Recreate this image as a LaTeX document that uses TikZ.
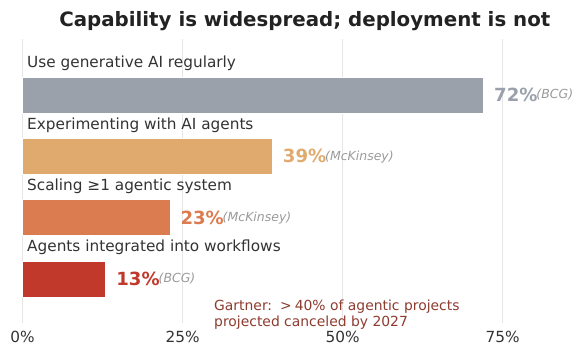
\documentclass[tikz,border=0pt]{standalone}
\usepackage{fontspec}
\setmainfont{DejaVu Sans}
\usepackage{xcolor}
\usepackage{tikz}
\usetikzlibrary{positioning}

\definecolor{barGray}{HTML}{9AA1AB}
\definecolor{barSand}{HTML}{E0AA6E}
\definecolor{barOrange}{HTML}{DB7B50}
\definecolor{barRed}{HTML}{C0392B}
\definecolor{noteInk}{HTML}{8E3B2F}
\definecolor{srcInk}{HTML}{9A9A9A}
\definecolor{labInk}{HTML}{333333}
\definecolor{titleInk}{HTML}{222222}
\definecolor{gridInk}{HTML}{E6E6E6}

\begin{document}
\begin{tikzpicture}[x=1pt, y=-1pt,
  ttl/.style={font=\bfseries\fontsize{19.8}{23}\selectfont, text=titleInk, inner sep=0pt},
  catlab/.style={font=\fontsize{15.3}{18}\selectfont, text=labInk, inner sep=0pt, anchor=base west},
  valtxt/.style={font=\bfseries\fontsize{18.1}{21}\selectfont, inner sep=0pt, anchor=base west},
  srctxt/.style={font=\itshape\fontsize{12.5}{15}\selectfont, text=srcInk, inner sep=0pt, anchor=base west},
  ticklab/.style={font=\fontsize{15.3}{18}\selectfont, text=labInk, inner sep=0pt, anchor=base},
  notetxt/.style={font=\fontsize{13.9}{16}\selectfont, text=noteInk, inner sep=0pt, anchor=base west},
  gridln/.style={draw=gridInk, line width=1pt},
  bar/.style={draw=white, line width=0.6pt}]
\useasboundingbox (0,0) rectangle (576,345);
\draw[gridln] (22.5,39) -- (22.5,322.7);
\draw[gridln] (182.6,39) -- (182.6,322.7);
\draw[gridln] (342.7,39) -- (342.7,322.7);
\draw[gridln] (502.7,39) -- (502.7,322.7);
\node[ttl, anchor=base] (title) at (304.8,26.7) {Capability is widespread; deployment is not};
\filldraw[bar, fill=barGray] (22.5,77) rectangle (483.5,113);
\filldraw[bar, fill=barSand] (22.5,138.3) rectangle (272.2,174.3);
\filldraw[bar, fill=barOrange] (22.5,199.6) rectangle (169.8,235.6);
\filldraw[bar, fill=barRed] (22.5,260.9) rectangle (105.7,296.9);
\node[catlab] (lab1) at (27,68) {Use generative AI regularly};
\node[catlab] (lab2) at (27,129.3) {Experimenting with AI agents};
\node[catlab] (lab3) at (27,190.6) {Scaling ≥1 agentic system};
\node[catlab] (lab4) at (27,251.9) {Agents integrated into workflows};
\node[valtxt, text=barGray] (val1) at (494,101.6) {72\%};
\node[valtxt, text=barSand] (val2) at (282.7,162.9) {39\%};
\node[valtxt, text=barOrange] (val3) at (180.3,224.2) {23\%};
\node[valtxt, text=barRed] (val4) at (116.2,285.5) {13\%};
\node[srctxt] (src1) at ([xshift=-1.5pt, yshift=2.6pt]val1.base east) {(BCG)};
\node[srctxt] (src2) at ([xshift=-1.5pt, yshift=2.6pt]val2.base east) {(McKinsey)};
\node[srctxt] (src3) at ([xshift=-1.5pt, yshift=2.6pt]val3.base east) {(McKinsey)};
\node[srctxt] (src4) at ([xshift=-1.5pt, yshift=2.6pt]val4.base east) {(BCG)};
\node[notetxt] (note1) at (214,310) {Gartner:\hspace{8pt}>\hspace{3pt}40\% of agentic projects};
\node[notetxt] (note2) at ([yshift=-16pt]note1.base west) {projected canceled by 2027};
\node[ticklab] (tick0) at (22.5,342.2) {0\%};
\node[ticklab] (tick25) at (182.6,342.2) {25\%};
\node[ticklab] (tick50) at (342.7,342.2) {50\%};
\node[ticklab] (tick75) at (502.7,342.2) {75\%};
\end{tikzpicture}
\end{document}
